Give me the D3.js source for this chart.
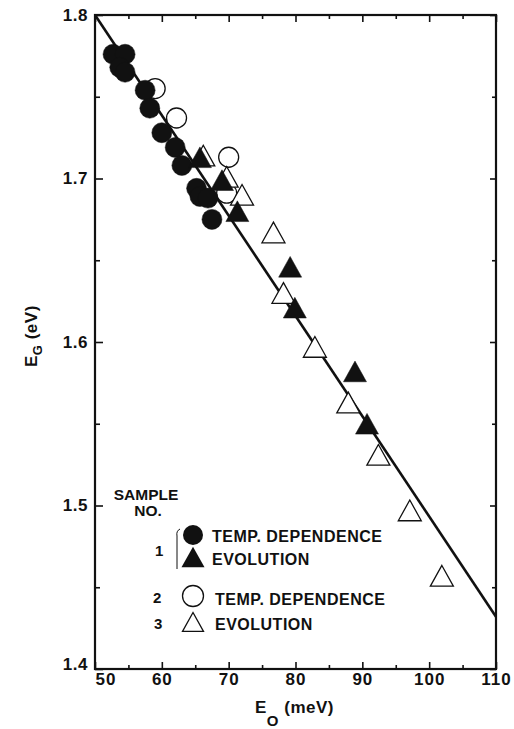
<!DOCTYPE html>
<html>
<head>
<meta charset="utf-8">
<script src="https://cdn.jsdelivr.net/npm/d3@7"></script>
<style>
  body { margin: 0; background: #fff; }
  text { font-family: "Liberation Sans", Arial, Helvetica, sans-serif; font-weight: bold; fill: #111; }
</style>
</head>
<body>
<div id="chart"></div>
<script>
// sample 1, temperature dependence (filled circles)
var s1Temp = [[52.7,1.776],[54.5,1.776],[53.7,1.768],[54.5,1.765],[57.5,1.754],[58.2,1.743],
  [60.0,1.728],[62.0,1.719],[63.0,1.708],[65.2,1.694],[65.7,1.689],[66.9,1.688],[67.5,1.675]];
// sample 1, evolution (filled triangles)
var s1Evol = [[65.7,1.713],[69.0,1.699],[71.3,1.680],[79.2,1.646],[79.9,1.621],[88.9,1.582],[90.7,1.550]];
// sample 2, temperature dependence (open circles)
var s2Temp = [[59.0,1.755],[62.2,1.737],[70.0,1.713],[69.7,1.691]];
// sample 3, evolution (open triangles)
var s3Evol = [[66.2,1.714],[69.7,1.701],[72.0,1.690],[76.7,1.667],[78.2,1.630],[82.9,1.597],
  [87.9,1.563],[92.4,1.531],[97.1,1.497],[101.9,1.457]];
// fitted line
var fitLine = [[50,1.8],[110,1.432]];

var xMajor = [50,60,70,80,90,100,110];
var xMinor = [55,65,75,85,95,105];
var yMajor = [1.4,1.5,1.6,1.7,1.8];
var yMinor = [1.45,1.55,1.65,1.75];

var WIDTH = 514, HEIGHT = 729,
  MARGINS = { top: 15, right: 18, bottom: 60, left: 95 };

var svg = d3.select("#chart").append("svg")
  .attr("width", WIDTH)
  .attr("height", HEIGHT);

var xRange = d3.scaleLinear().domain([50,110]).range([MARGINS.left, WIDTH - MARGINS.right]);
var yRange = d3.scaleLinear().domain([1.4,1.8]).range([HEIGHT - MARGINS.bottom, MARGINS.top]);

// triangle centred on its bounding box
var tri = {
  draw: function (ctx, size) {
    var w = Math.sqrt(size), h = w * 0.9;
    ctx.moveTo(0, -h / 2);
    ctx.lineTo(w / 2, h / 2);
    ctx.lineTo(-w / 2, h / 2);
    ctx.closePath();
  }
};

function axis(gen, vals, size, tx, ty, fmt) {
  var g = svg.append("g")
    .attr("transform", "translate(" + tx + "," + ty + ")")
    .call(gen.tickValues(vals).tickSizeInner(size).tickSizeOuter(0).tickFormat(fmt || ""))
    .call(function (g) { g.select(".domain").remove(); });
  g.selectAll("line").attr("stroke", "#111").attr("stroke-width", 1.6);
  return g;
}

var bottom = HEIGHT - MARGINS.bottom, right = WIDTH - MARGINS.right;

var xAx = axis(d3.axisBottom(xRange).tickPadding(4), xMajor, -7, 0, bottom, d3.format("d"));
axis(d3.axisBottom(xRange), xMinor, -4, 0, bottom);
axis(d3.axisTop(xRange), xMajor, -7, 0, MARGINS.top);
axis(d3.axisTop(xRange), xMinor, -4, 0, MARGINS.top);
var yAx = axis(d3.axisLeft(yRange).tickPadding(7), yMajor, -8, MARGINS.left, 0, d3.format(".1f"));
axis(d3.axisLeft(yRange), yMinor, -5, MARGINS.left, 0);
axis(d3.axisRight(yRange), yMajor, -6, right, 0);
axis(d3.axisRight(yRange), yMinor, -4, right, 0);

xAx.selectAll("text").attr("font-size", 17).attr("letter-spacing", 1).attr("font-family", null).attr("fill", "#111");
xAx.selectAll("text").filter(function (d) { return d === 50; }).attr("text-anchor", "start");
yAx.selectAll("text").attr("font-size", 17).attr("letter-spacing", 0.5).attr("font-family", null).attr("fill", "#111");
yAx.selectAll("text").filter(function (d) { return d === 1.4; }).attr("dy", "0.05em");

// frame
svg.append("rect")
  .attr("x", MARGINS.left).attr("y", MARGINS.top)
  .attr("width", right - MARGINS.left).attr("height", bottom - MARGINS.top)
  .attr("fill", "none").attr("stroke", "#111").attr("stroke-width", 2.2);

var lineFunc = d3.line()
  .x(function (d) { return xRange(d[0]); })
  .y(function (d) { return yRange(d[1]); });

svg.append("path")
  .attr("d", lineFunc(fitLine))
  .attr("stroke", "#111").attr("stroke-width", 2.6).attr("fill", "none");

function pts(data, type, size, filled) {
  svg.append("g").selectAll("path").data(data).enter().append("path")
    .attr("transform", function (d) { return "translate(" + xRange(d[0]) + "," + yRange(d[1]) + ")"; })
    .attr("d", d3.symbol().type(type).size(size))
    .attr("fill", filled ? "#111" : "#fff")
    .attr("stroke", "#111")
    .attr("stroke-width", filled ? 0.5 : 1.3);
}

pts(s2Temp, d3.symbolCircle, Math.PI * 100, false);
pts(s3Evol, tri, 23 * 23, false);
pts(s1Temp, d3.symbolCircle, Math.PI * 100, true);
pts(s1Evol, tri, 23 * 23, true);

// axis titles
var xt = svg.append("text").attr("x", 255).attr("y", 713).attr("font-size", 17).attr("letter-spacing", 0.5);
xt.append("tspan").text("E");
xt.append("tspan").attr("dy", 13).attr("font-size", 15).text("O");
xt.append("tspan").attr("dy", -13).text(" (meV)");

var yt = svg.append("text").attr("transform", "translate(37,367) rotate(-90)").attr("font-size", 17).attr("letter-spacing", 0.5);
yt.append("tspan").text("E");
yt.append("tspan").attr("dy", 5).attr("font-size", 13).text("G");
yt.append("tspan").attr("dy", -5).text(" (eV)");

// legend
var leg = svg.append("g").attr("font-size", 16);
leg.append("text").attr("x", 146).attr("y", 500).attr("font-size", 15.5).attr("text-anchor", "middle").text("SAMPLE");
leg.append("text").attr("x", 148).attr("y", 516).attr("font-size", 15.5).attr("text-anchor", "middle").text("NO.");
leg.append("text").attr("x", 155).attr("y", 556).attr("font-size", 15).text("1");
leg.append("text").attr("x", 153).attr("y", 603).attr("font-size", 15).text("2");
leg.append("text").attr("x", 154).attr("y", 629).attr("font-size", 15).text("3");
leg.append("path").attr("d", "M180,529 Q176,531 177,536 L177,569")
  .attr("fill", "none").attr("stroke", "#111").attr("stroke-width", 1);

leg.append("path").attr("transform", "translate(193,535)").attr("d", d3.symbol().type(d3.symbolCircle).size(Math.PI * 100)).attr("fill", "#111");
leg.append("path").attr("transform", "translate(193,557)").attr("d", d3.symbol().type(tri).size(23 * 23)).attr("fill", "#111");
leg.append("path").attr("transform", "translate(193,596)").attr("d", d3.symbol().type(d3.symbolCircle).size(Math.PI * 110)).attr("fill", "#fff").attr("stroke", "#111").attr("stroke-width", 1.3);
leg.append("path").attr("transform", "translate(193,622)").attr("d", d3.symbol().type(tri).size(21 * 21)).attr("fill", "#fff").attr("stroke", "#111").attr("stroke-width", 1.3);

leg.append("text").attr("x", 212).attr("y", 542).attr("letter-spacing", 0.5).text("TEMP. DEPENDENCE");
leg.append("text").attr("x", 212).attr("y", 565).attr("letter-spacing", 0.5).text("EVOLUTION");
leg.append("text").attr("x", 215).attr("y", 605).attr("letter-spacing", 0.5).text("TEMP. DEPENDENCE");
leg.append("text").attr("x", 215).attr("y", 630).attr("letter-spacing", 0.5).text("EVOLUTION");
</script>
</body>
</html>
